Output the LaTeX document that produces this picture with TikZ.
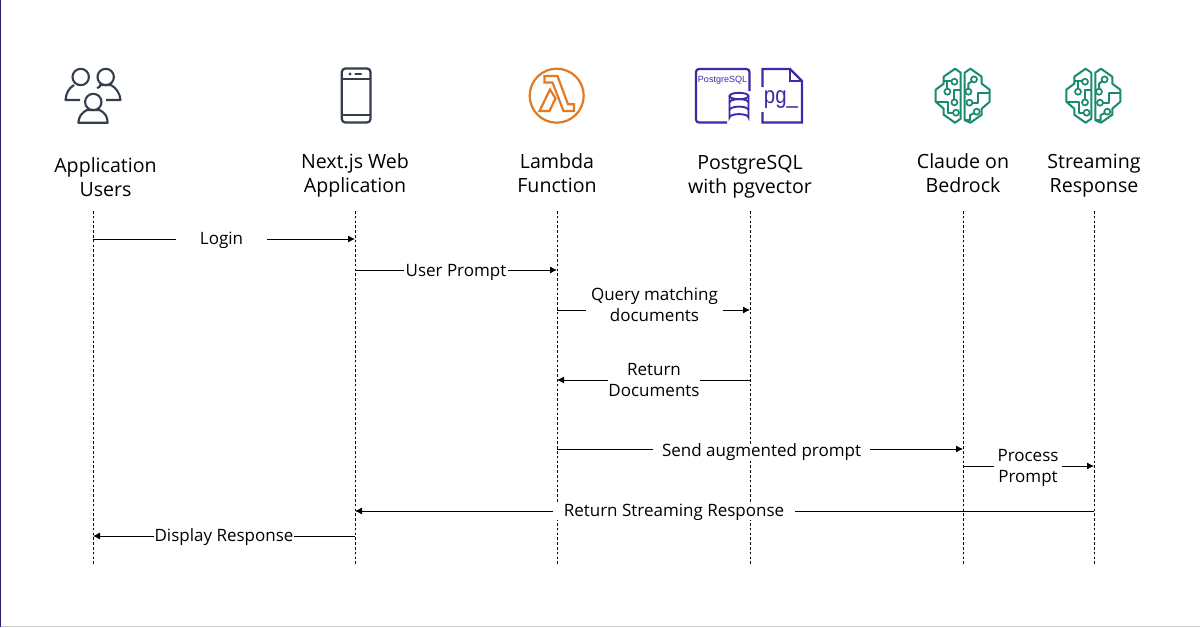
\documentclass[tikz,border=0pt]{standalone}
\usepackage{fontspec}
\setmainfont{Open Sans}
\newfontfamily\pgfam{Liberation Sans}
\usetikzlibrary{arrows.meta}
\definecolor{pgpurple}{HTML}{3B2BA6}
\definecolor{lamb}{HTML}{E07B24}
\definecolor{brain}{HTML}{1A8A6E}
\definecolor{iconDark}{HTML}{333E4C}
\tikzset{
  lifeline/.style={draw=black,line width=0.8pt,dash pattern=on 2.6pt off 2.2pt},
  msg/.style={draw=black,line width=0.8pt,-{Latex[length=7pt,width=7pt]}},
  head/.style={font=\fontsize{19.6}{24}\selectfont,align=center,inner sep=0pt,text=black},
  lbl/.style={font=\fontsize{17}{21}\selectfont,align=center,fill=white,inner sep=0pt,text=black},
  brainline/.style={draw=brain,line width=2pt,line join=round},
  brainpt/.style={draw=brain,fill=white,line width=1.7pt,circle,minimum size=6pt,inner sep=0pt},
  pics/brainicon/.style={code={
    \draw[brainline] (-2,-23) -- (-7.7,-27) -- (-19,-19) -- (-19,-12) -- (-27,-6) -- (-27,6) -- (-19,13) -- (-19,19) -- (-7.7,27) -- (-2,23) -- cycle;
    \draw[brainline] (2,-23) -- (7.7,-27) -- (19,-19) -- (19,-12) -- (27,-6) -- (27,6) -- (19,13) -- (19,19) -- (7.7,27) -- (2,24.5) -- cycle;
    \draw[brainline] (-19,-15) -- (-8.3,-15);
    \draw[brainline] (-15.3,-15) -- (-15.3,-4);
    \draw[brainline] (-2,-5.7) -- (-8.3,-5.7) -- (-8.3,6.7);
    \draw[brainline] (-27,6) -- (-14.3,6) -- (-14.3,17) -- (-6.7,17);
    \draw[brainline] (11.3,-16.3) -- (5.7,-12) -- (5.7,-4);
    \draw[brainline] (27,-2.3) -- (15.7,-2.3) -- (15.7,7) -- (6.7,7);
    \draw[brainline] (2,24.5) -- (7.3,24.5) -- (7.3,19.5) -- (14,16);
    \node[brainpt] at (-8.3,-14) {};
    \node[brainpt] at (-15.3,-4) {};
    \node[brainpt] at (-8.3,6.7) {};
    \node[brainpt] at (-6.7,17) {};
    \node[brainpt] at (11.3,-16.3) {};
    \node[brainpt] at (5.7,-4) {};
    \node[brainpt] at (6.7,7) {};
    \node[brainpt] at (14,16) {};
  }}
}
\begin{document}
\begin{tikzpicture}[x=1pt,y=-1pt]
\useasboundingbox (0,0) rectangle (1200,627);
\fill[white] (0,0) rectangle (1200,627);
\fill[black!20] (0,625.5) rectangle (1200,627);
\fill[pgpurple!70!black] (0,0) rectangle (1.2,627);

% lifelines
\foreach \n/\x in {a/93,b/355,c/557,d/750,e/963,f/1094}{
  \coordinate (\n t) at (\x,211);
  \coordinate (\n b) at (\x,565);
  \draw[lifeline] (\n t) -- (\n b);
  \coordinate (\n) at (\x,0);
}

% heads
\node[head] (h1) at (105.5,177) {Application\\Users};
\node[head] (h2) at (355,175) {Next.js Web\\Application};
\node[head] (h3) at (557,173) {Lambda\\Function};
\node[head] (h4) at (750,177) {PostgreSQL\\with pgvector};
\node[head] (h5) at (963,173) {Claude on\\Bedrock};
\node[head] (h6) at (1094,176) {Streaming\\Response};

% messages
\draw[msg] (a |- 0,239) -- (b |- 0,239);
\node[lbl,minimum width=91pt] (m1) at (221.5,240) {Login};
\draw[msg] (b |- 0,270) -- (c |- 0,270);
\node[lbl,minimum width=104pt] (m2) at (456,272) {User Prompt};
\draw[msg] (c |- 0,310) -- (d |- 0,310);
\node[lbl,minimum width=137pt] (m3) at (654.5,305) {Query matching\\documents};
\draw[msg] (d |- 0,380) -- (c |- 0,380);
\node[lbl,minimum width=92pt] (m4) at (654,380) {Return\\Documents};
\draw[msg] (c |- 0,449) -- (e |- 0,449);
\node[lbl,minimum width=217pt] (m5) at (761.5,452) {Send augmented prompt};
\draw[msg] (e |- 0,466) -- (f |- 0,466);
\node[lbl,minimum width=68pt] (m6) at (1028,468) {Process\\Prompt};
\draw[msg] (f |- 0,511) -- (b |- 0,511);
\node[lbl,minimum width=242pt] (m7) at (674,512) {Return Streaming Response};
\draw[msg] (b |- 0,536) -- (a |- 0,536);
\node[lbl,minimum width=140pt] (m8) at (224,537.5) {Display Response};

% users icon
\begin{scope}[draw=iconDark,line width=2.1pt,line join=round]
  \draw (80.7,77) circle (8.2);
  \draw (105.7,77) circle (8.2);
  \draw (93.3,102) circle (8.2);
  \draw (78.3,122.7) .. controls (79,116) and (82,112.5) .. (87,110) -- (99.5,110) .. controls (104.5,112.5) and (107.5,116) .. (107.7,122.7) -- cycle;
  \draw (74,85) .. controls (69,88) and (66,93) .. (65.5,100) -- (80,100);
  \draw (97,88) .. controls (100,87) .. (100,85) -- (111,85) .. controls (116,88) and (120,93) .. (120.5,100) -- (106,100);
\end{scope}

% phone icon
\begin{scope}[draw=iconDark,line width=2.2pt]
  \draw[rounded corners=3.5pt] (341.8,68.5) rectangle (370.5,122.5);
  \draw (341.8,79) -- (370.5,79);
  \draw (341.8,115) -- (370.5,115);
  \draw[line cap=round] (355.5,74) -- (361,74);
  \fill[iconDark] (350,74) circle (1.6);
\end{scope}

% lambda icon
\begin{scope}[draw=lamb,line width=2.2pt,line join=miter]
  \draw (556.7,95.7) circle (27);
  \draw (544.5,76) -- (557.5,76) -- (568,104.3) -- (574,104.3) -- (574,111) -- (563.5,111) -- (552.5,82.5) -- (544.5,82.5) -- cycle;
  \draw (550,89.5) -- (539.5,111) -- (549.5,111) -- (555.5,98.5) -- cycle;
\end{scope}

% postgres icon
\begin{scope}[draw=pgpurple,line width=2.2pt]
  \draw[rounded corners=3pt] (727,122.5) -- (696,122.5) -- (696,69) -- (749.5,69) -- (749.5,91);
  \node[font=\pgfam\fontsize{9}{10}\selectfont,text=pgpurple,inner sep=0pt] (pglabel) at (722.5,80) {PostgreSQL};
  \begin{scope}[line width=1.9pt]
  \draw[fill=white] (729.5,96) -- (729.5,117.5) arc[start angle=180,end angle=360,x radius=9.5,y radius=3.4] -- (748.5,96);
  \draw[fill=white] (739,96) ellipse (9.5 and 3.2);
  \draw (729.5,102.5) arc[start angle=180,end angle=360,x radius=9.5,y radius=3.4];
  \draw (729.5,110) arc[start angle=180,end angle=360,x radius=9.5,y radius=3.4];
  \end{scope}
  \draw[line join=miter] (762.5,87) -- (762.5,69) -- (790,69) -- (802,81) -- (802,122.5) -- (762.5,122.5) -- (762.5,112);
  \draw (790,69) -- (790,81) -- (802,81);
  \node[font=\pgfam\fontsize{24}{26}\selectfont,text=pgpurple,inner sep=0pt,anchor=base west,xscale=0.85] (pgtext) at (763,103.5) {pg\_};
\end{scope}

% brain icons
\pic at (962.7,95.7) {brainicon};
\pic at (1093.3,95.7) {brainicon};
\end{tikzpicture}
\end{document}
